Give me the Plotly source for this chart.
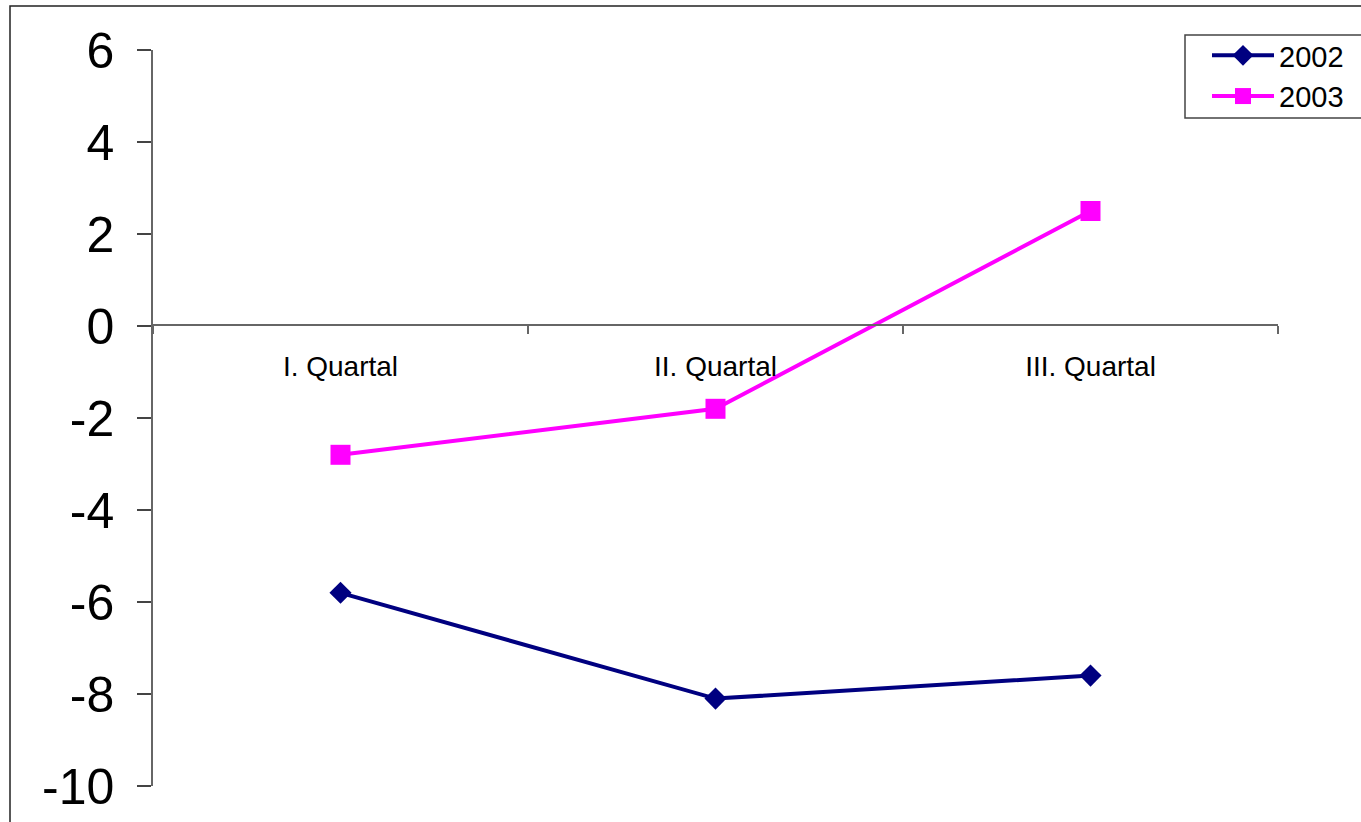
import plotly.graph_objects as go

categories = ["I. Quartal", "II. Quartal", "III. Quartal"]
values_2002 = [-5.8, -8.1, -7.6]
values_2003 = [-2.8, -1.8, 2.5]
y_ticks = [-10, -8, -6, -4, -2, 0, 2, 4, 6]
y_tick_labels = ["-10", "-8", "-6", "-4", "-2", "0", "2", "4", "6"]

W, H = 1361, 822
L, R, T, B = 153, 83, 50, 36
PW, PH = W - L - R, H - T - B

def px(x):
    return (x - L) / PW

def py(y):
    return (H - B - y) / PH

fig = go.Figure()
fig.add_trace(go.Scatter(
    x=categories, y=values_2002, name="2002", mode="lines+markers",
    line=dict(color="#000080", width=4),
    marker=dict(symbol="diamond", size=17, color="#000080"),
))
fig.add_trace(go.Scatter(
    x=categories, y=values_2003, name="2003", mode="lines+markers",
    line=dict(color="#FF00FF", width=4),
    marker=dict(symbol="square", size=20, color="#FF00FF"),
))

fig.update_layout(
    width=W, height=H,
    margin=dict(l=L, r=R, t=T, b=B, pad=0, autoexpand=False),
    paper_bgcolor="white", plot_bgcolor="white",
    font=dict(family="Liberation Sans, Arial, sans-serif", color="black"),
    showlegend=True,
    legend=dict(
        x=px(1207), y=py(30), xanchor="left", yanchor="top",
        borderwidth=0, bgcolor="rgba(0,0,0,0)",
        font=dict(size=29), itemwidth=62,
    ),
    xaxis=dict(
        type="category", range=[-0.5, 2.5], automargin=False,
        anchor="free", position=py(325),
        showline=True, linecolor="#666", linewidth=1.5,
        ticks="outside", tickson="boundaries", ticklen=8, tickcolor="#666", tickwidth=1.5,
        showgrid=False, zeroline=False,
        tickfont=dict(size=28), ticklabelstandoff=17,
    ),
    yaxis=dict(
        range=[-10, 6], tickvals=y_ticks, ticktext=y_tick_labels, automargin=False,
        showline=True, linecolor="#666", linewidth=1.5,
        ticks="outside", ticklen=14, tickcolor="#444", tickwidth=1.5,
        showgrid=False, zeroline=False,
        tickfont=dict(size=50), ticklabelstandoff=13,
    ),
    shapes=[
        dict(
            type="rect", xref="paper", yref="paper",
            x0=px(10), x1=px(1380), y0=py(840), y1=py(6),
            line=dict(color="#222", width=1.5), fillcolor="rgba(0,0,0,0)", layer="below",
        ),
        dict(
            type="rect", xref="paper", yref="paper",
            x0=px(1185), x1=px(1380), y0=py(118), y1=py(35),
            line=dict(color="#444", width=1.5), fillcolor="white", layer="below",
        ),
    ],
)

fig.write_html("out.html")
